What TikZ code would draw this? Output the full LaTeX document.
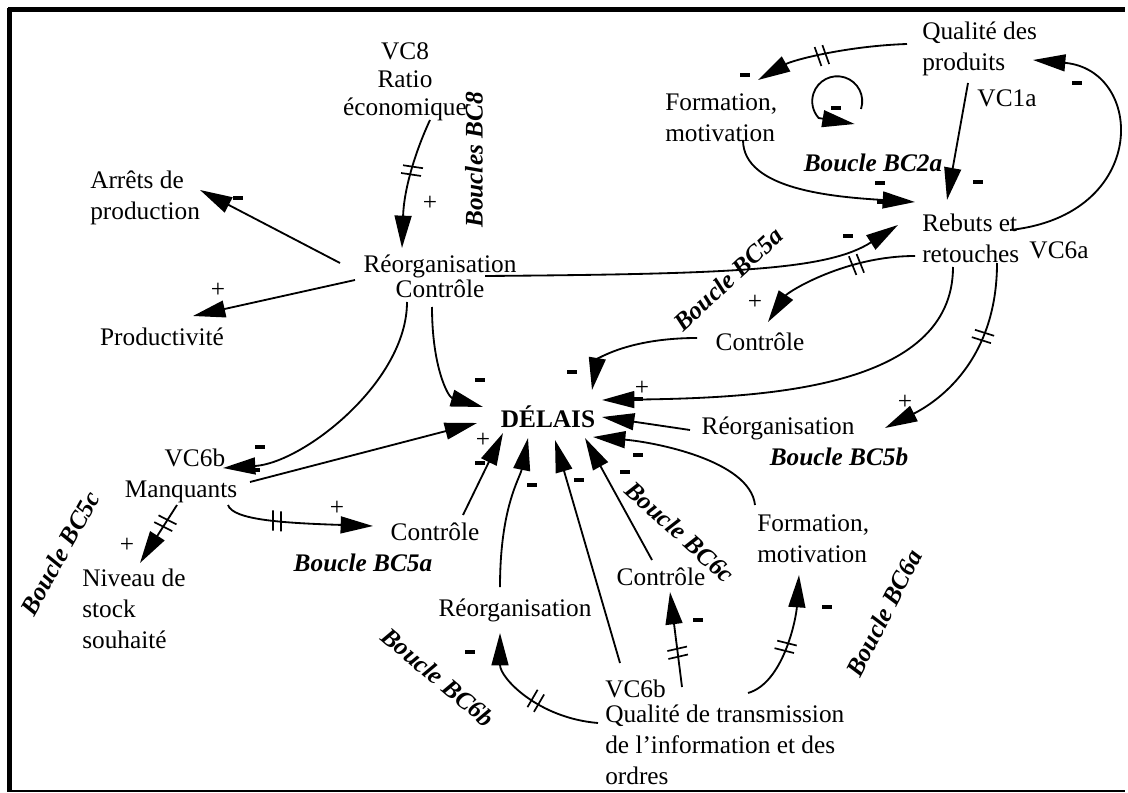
\documentclass[tikz,border=0pt]{standalone}
\usepackage{fontspec}
\setmainfont{Liberation Serif}
\usetikzlibrary{arrows.meta,decorations.markings}
\newcommand{\taille}{\fontsize{18}{22}\selectfont}

\begin{document}
\begin{tikzpicture}[x=0.025cm,y=-0.025cm,
    txt/.style={inner sep=0pt,font=\taille},
    boucle/.style={inner sep=0pt,font=\taille\bfseries\itshape},
    fleche/.style={-{Triangle[length=23pt,width=12pt]},line width=1.3pt},
    retard/.style={postaction={decorate,decoration={markings,
        mark=at position #1 with {\draw[-,line width=1.2pt] (-4,-10) -- (-2,10) (4,-10) -- (6,10);}}}},
    signe/.style={inner sep=0pt,font=\taille}]

    \useasboundingbox (0,0) rectangle (1128,793);

    % cadre
    \draw[line width=3pt] (8,9.5) -- (1125,9.5);
    \draw[line width=3pt] (9.5,8) -- (9.5,792);
    \draw[line width=1.8pt] (8,791) -- (1125,791);

    % variables
    \node[txt,align=center] (vcviii) at (405,82) {VC8\\[-2pt]Ratio\\[-2pt]économique};
    \node[txt,align=left,anchor=west] (arrets) at (90,198) {Arrêts de\\production};
    \node[txt,align=center] (reorg) at (440,276) {Réorganisation\\[-4pt]Contrôle};
    \node[txt] (prod) at (162,337) {Productivité};
    \node[txt,align=left,anchor=west] (qualp) at (922,49) {Qualité des\\produits};
    \node[txt] (vcia) at (1007,98) {VC1a};
    \node[txt,align=left,anchor=west] (formu) at (665,118) {Formation,\\motivation};
    \node[signe] (loopii) at (836,108) {\rule{6.5pt}{2.2pt}};
    \node[txt,align=left,anchor=west] (rebuts) at (922,238) {Rebuts et\\retouches};
    \node[txt] (vcvia) at (1059,250) {VC6a};
    \node[txt] (ctrlup) at (760,342) {Contrôle};
    \node[txt,font=\taille\bfseries] (delais) at (548,417) {DÉLAIS};
    \node[txt] (reorgr) at (778,428) {Réorganisation};
    \node[txt,align=center] (manq) at (181,476) {\hspace*{1.1em}VC6b\\Manquants};
    \node[txt,align=left,anchor=west] (niveau) at (82,609) {Niveau de\\stock\\souhaité};
    \node[txt] (ctrlmid) at (435,532) {Contrôle};
    \node[txt] (reorglow) at (515,610) {Réorganisation};
    \node[txt] (ctrllow) at (661,577) {Contrôle};
    \node[txt,align=left,anchor=west] (formlow) at (757,539) {Formation,\\motivation};
    \node[txt,align=left,anchor=west] (qualt) at (605,732) {VC6b\\[-4pt]Qualité de transmission\\de l'information et des\\ordres};

    % boucles
    \node[boucle,rotate=90] (bcviii) at (474,160) {Boucles BC8};
    \node[boucle] (bcii) at (873,163) {Boucle BC2a};
    \node[boucle,rotate=43] (bcva) at (728,279) {Boucle BC5a};
    \node[boucle] (bcvb) at (839,457) {Boucle BC5b};
    \node[boucle,rotate=61] (bcvc) at (60,553) {Boucle BC5c};
    \node[boucle] (bcvalow) at (363,563) {Boucle BC5a};
    \node[boucle,rotate=-40] (bcvib) at (438,677) {Boucle BC6b};
    \node[boucle,rotate=-42] (bcvic) at (680,532) {Boucle BC6c};
    \node[boucle,rotate=63] (bcvia) at (884,613) {Boucle BC6a};

    % liens
    \draw[fleche,retard=0.4] ([shift={(25,38)}]vcviii.center) .. controls +(-14,30) and +(2,-60) .. ([shift={(-38,-28)}]reorg.center);
    \draw[fleche] ([shift={(-100,-13)}]reorg.center) -- ([shift={(110,-8)}]arrets.west);
    \draw[fleche] ([shift={(-85,4)}]reorg.center) -- ([shift={(31,-21)}]prod.center);
    \draw[fleche] ([shift={(45,0)}]reorg.center) .. controls +(250,-2) and +(-70,45) .. ([shift={(-24,-13)}]rebuts.west);
    \draw[fleche] ([shift={(-33,26)}]reorg.center) .. controls +(0,80) and +(80,-5) .. ([shift={(42,-8)}]manq.center);
    \draw[fleche] ([shift={(-8,31)}]reorg.center) .. controls +(0,60) and +(-35,-10) .. ([shift={(-65,-10)}]delais.center);
    \draw[fleche,retard=0.55] ([shift={(-15,-5)}]qualp.west) .. controls +(-60,2) and +(35,-20) .. ([shift={(93,-38)}]formu.west);
    \draw[fleche] ([shift={(46,34)}]qualp.west) -- ([shift={(25,-38)}]rebuts.west);
    \draw[fleche] ([shift={(78,22)}]formu.west) .. controls +(0,50) and +(-80,-5) .. ([shift={(-7,-36)}]rebuts.west);
    \draw[fleche] ([shift={(88,-8)}]rebuts.west) .. controls +(140,-15) and +(112,10) .. ([shift={(111,11)}]qualp.west);
    \draw[fleche] ([shift={(25,1)}]loopii.center) arc (18:-222:25) -- ++(36,6);
    \draw[fleche,retard=0.35] ([shift={(-7,18)}]rebuts.west) .. controls +(-70,0) and +(20,-30) .. ([shift={(8,-20)}]ctrlup.center);
    \draw[fleche] ([shift={(-63,-4)}]ctrlup.center) .. controls +(-70,0) and +(5,-30) .. ([shift={(44,-27)}]delais.center);
    \draw[fleche] ([shift={(31,29)}]rebuts.west) .. controls +(0,123) and +(158,-2) .. ([shift={(54,-17)}]delais.center);
    \draw[fleche,retard=0.35] ([shift={(75,25)}]rebuts.west) .. controls +(0,100) and +(50,-25) .. ([shift={(107,0)}]reorgr.center);
    \draw[fleche] ([shift={(69,6)}]manq.center) -- ([shift={(-71,6)}]delais.center);
    \draw[fleche,retard=0.3] ([shift={(-4,29)}]manq.center) -- ([shift={(58,-46)}]niveau.west);
    \draw[fleche,retard=0.35] ([shift={(47,29)}]manq.center) .. controls +(5,15) and +(-90,-3) .. ([shift={(-62,-6)}]ctrlmid.center);
    \draw[fleche] ([shift={(28,-17)}]ctrlmid.center) -- ([shift={(-45,16)}]delais.center);
    \draw[fleche] ([shift={(-15,-23)}]reorglow.center) .. controls +(0,-80) and +(-8,40) .. ([shift={(-20,21)}]delais.center);
    \draw[fleche,retard=0.45] ([shift={(-7,-9)}]qualt.west) .. controls +(-60,-5) and +(0,45) .. ([shift={(-15,23)}]reorglow.center);
    \draw[fleche] ([shift={(15,-69)}]qualt.west) -- ([shift={(7,23)}]delais.center);
    \draw[fleche,retard=0.35] ([shift={(77,-45)}]qualt.west) -- ([shift={(9,15)}]ctrllow.center);
    \draw[fleche] ([shift={(-9,-17)}]ctrllow.center) -- ([shift={(37,21)}]delais.center);
    \draw[fleche,retard=0.45] ([shift={(143,-39)}]qualt.west) .. controls +(35,-10) and +(-3,45) .. ([shift={(42,36)}]formlow.west);
    \draw[fleche] ([shift={(-2,-34)}]formlow.west) .. controls +(-5,-45) and +(60,5) .. ([shift={(45,20)}]delais.center);
    \draw[fleche] ([shift={(-88,2)}]reorgr.center) -- ([shift={(54,0)}]delais.center);

    % signes
    \foreach \x/\y [count=\i] in {430/203, 218/290, 755/302, 642/388, 905/402, 483/440, 127/545, 337/508}
        \node[signe] (plus\i) at (\x,\y) {+};
    \foreach \x/\y [count=\i] in {238/198, 848/236, 260/447, 255/470, 480/380, 745/75, 978/182, 880/183, 882/202,
        1077/83, 572/372, 638/399, 480/463, 532/485, 470/652, 579/480, 698/620, 625/472, 827/607, 638/455}
        \node[signe] (moins\i) at (\x,\y) {\rule{6.5pt}{2.2pt}};

\end{tikzpicture}
\end{document}
